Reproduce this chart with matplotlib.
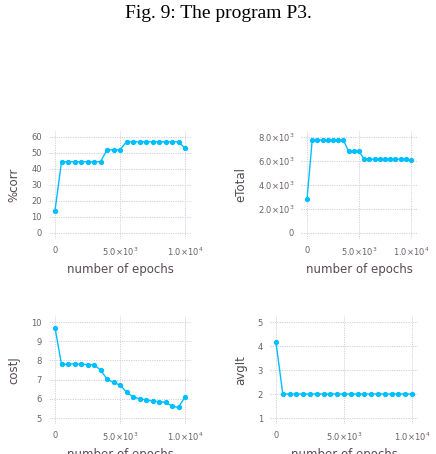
import numpy as np
import matplotlib
matplotlib.use("Agg")
import matplotlib.pyplot as plt

epochs = [0, 500, 1000, 1500, 2000, 2500, 3000, 3500, 4000, 4500, 5000,
          5500, 6000, 6500, 7000, 7500, 8000, 8500, 9000, 9500, 10000]

pct_corr = [14, 44.5, 44.5, 44.5, 44.5, 44.5, 44.5, 44.5, 52, 52, 52,
            57, 57, 57, 57, 57, 57, 57, 57, 57, 53]
e_total = [2800, 7750, 7750, 7750, 7750, 7750, 7750, 7750, 6800, 6800, 6800,
           6150, 6150, 6150, 6150, 6150, 6150, 6150, 6150, 6150, 6050]
cost_j = [9.7, 7.8, 7.8, 7.83, 7.8, 7.78, 7.77, 7.5, 7.03, 6.85, 6.72,
          6.35, 6.1, 6.0, 5.95, 5.88, 5.85, 5.82, 5.62, 5.55, 6.1]
avg_it = [4.15, 2, 2, 2, 2, 2, 2, 2, 2, 2, 2,
          2, 2, 2, 2, 2, 2, 2, 2, 2, 2]

x_ticks = [0, 5000, 10000]
x_ticklabels = ['0', r'5.0$\times$10$^3$', r'1.0$\times$10$^4$']

W, H = 436, 454
LINE = '#00BFFF'
GRID = '#D0D0E0'
TICK = '#6C606B'
LABEL = '#564A55'

fig = plt.figure(figsize=(W / 100, H / 100), dpi=100)
fig.text(0.5, 1 - 13 / H, 'Fig. 9: The program P3.', ha='center', va='center',
         fontsize=14, family='Liberation Serif')


def panel(px0, px1, py_top, py_bot, yr, ys, yticks, yticklabels, ylabel, ylab_x, pad=6):
    # data range (0..10000, yr) sits on the given pixel box, pad px round it
    sx = 10000 / (px1 - px0)
    sy = (yr[1] - yr[0]) / (py_bot - py_top)
    ax = fig.add_axes([(px0 - pad) / W, 1 - (py_bot + pad) / H,
                       (px1 - px0 + 2 * pad) / W, (py_bot - py_top + 2 * pad) / H])
    ax.set_xlim(-pad * sx, 10000 + pad * sx)
    ax.set_ylim(yr[0] - pad * sy, yr[1] + pad * sy)
    ax.plot(epochs, ys, color=LINE, lw=1, marker='o', ms=2.8, mec=LINE)
    ax.set_xticks(x_ticks)
    ax.set_xticklabels(x_ticklabels)
    ax.set_yticks(yticks)
    ax.set_yticklabels(yticklabels)
    ax.grid(True, color=GRID, ls=(0, (1.2, 1.2)), lw=0.7)
    ax.set_axisbelow(True)
    for s in ax.spines.values():
        s.set_visible(False)
    ax.tick_params(length=0, labelsize=6, labelcolor=TICK, pad=5)
    mid = (py_top + py_bot) / 2
    fig.text(ylab_x / W, 1 - mid / H, ylabel, rotation=90, ha='center', va='center',
             fontsize=8.5, color=LABEL)
    fig.text((px0 + px1) / 2 / W, 1 - (py_bot + 37) / H, 'number of epochs',
             ha='center', va='center', fontsize=8.5, color=LABEL)
    return ax


panel(55, 185, 137, 233, (0, 60), pct_corr, [0, 10, 20, 30, 40, 50, 60],
      ['0', '10', '20', '30', '40', '50', '60'], '%corr', 14)
panel(307, 411, 137, 233, (0, 8000), e_total, [0, 2000, 4000, 6000, 8000],
      ['0', r'2.0$\times$10$^3$', r'4.0$\times$10$^3$', r'6.0$\times$10$^3$',
       r'8.0$\times$10$^3$'], 'eTotal', 241)
panel(55, 185, 322, 418, (5, 10), cost_j, [5, 6, 7, 8, 9, 10],
      ['5', '6', '7', '8', '9', '10'], 'costJ', 14)
panel(276, 412, 322, 418, (1, 5), avg_it, [1, 2, 3, 4, 5],
      ['1', '2', '3', '4', '5'], 'avgIt', 241)

fig.savefig('out.png', dpi=100)
